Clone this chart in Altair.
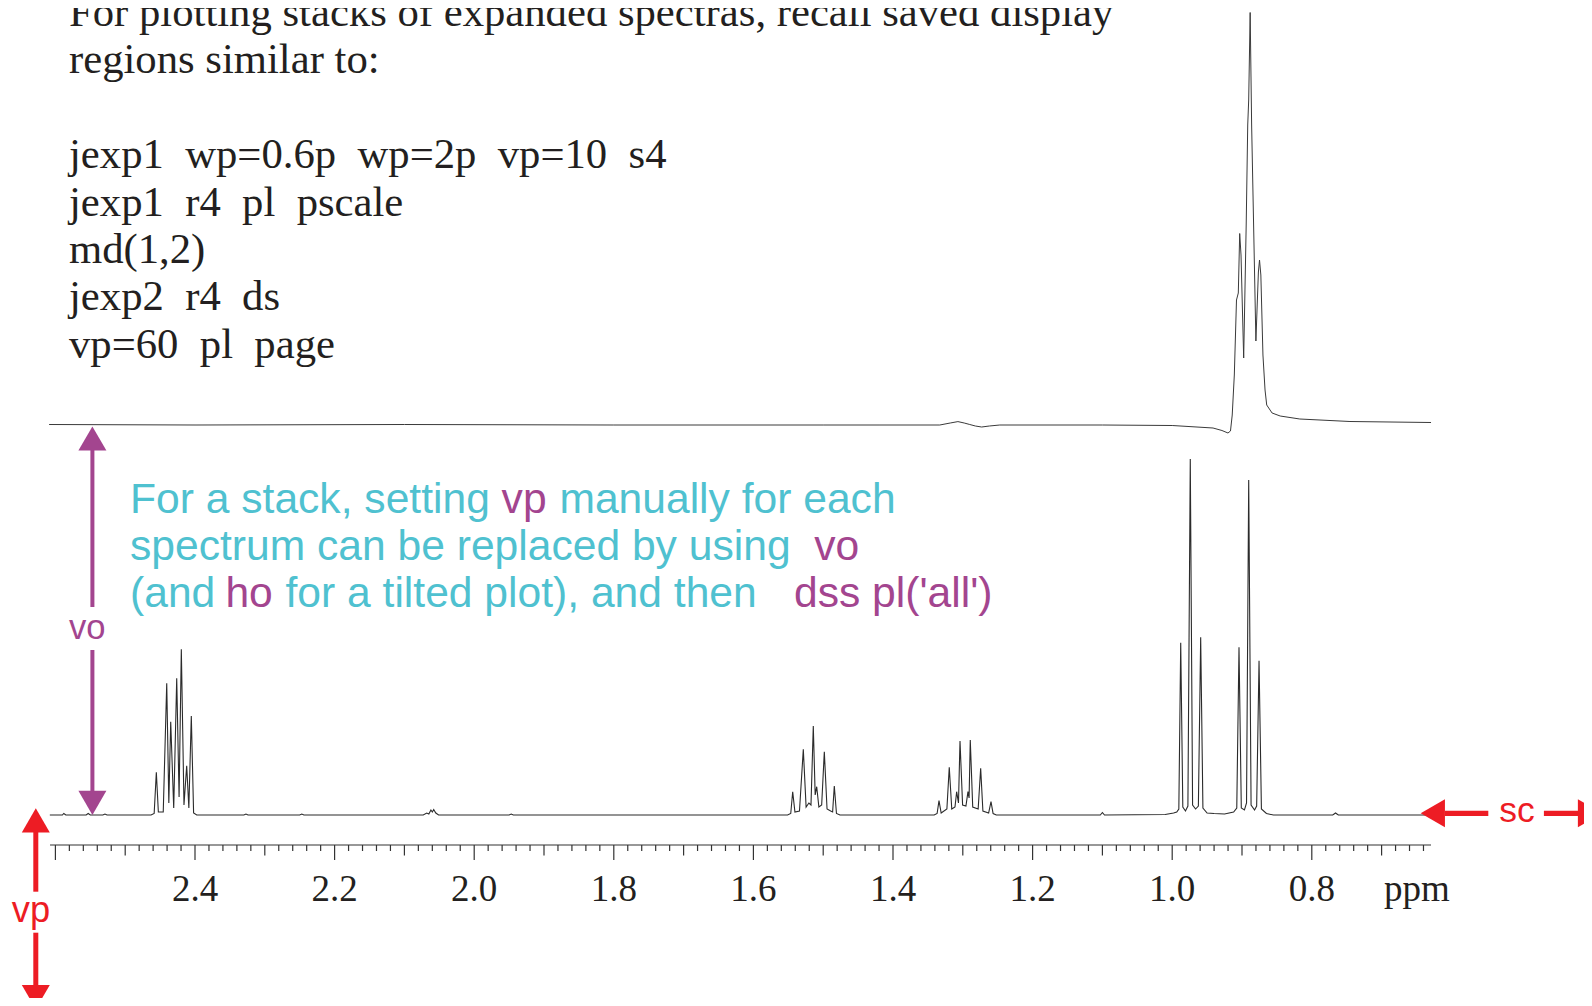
import altair as alt
import pandas as pd

# ---------------- data ----------------
# lower (high-resolution) spectrum: chemical shift (ppm) and intensity above its baseline
low_ppm = [2.608, 2.590, 2.588, 2.585, 2.556, 2.553, 2.550, 2.532, 2.529, 2.526,
           2.463, 2.4585, 2.4554, 2.4525, 2.4455, 2.4405, 2.4375, 2.4348, 2.4305, 2.4262,
           2.4228, 2.4196, 2.4158, 2.4119, 2.4088, 2.4053, 2.4020, 2.3975,
           2.330, 2.327, 2.324, 2.250, 2.247, 2.244,
           2.073, 2.068, 2.065, 2.062, 2.060, 2.058, 2.055, 2.051, 1.950, 1.947, 1.944,
           1.551, 1.5465, 1.5437, 1.5405, 1.534, 1.5285, 1.5245, 1.5205, 1.5175, 1.5142,
           1.5115, 1.5093, 1.5062, 1.5022, 1.4984, 1.4945, 1.4893, 1.4865, 1.4841, 1.4810, 1.476,
           1.341, 1.3368, 1.3341, 1.3310, 1.3228, 1.3194, 1.3158, 1.3112, 1.3088, 1.3062,
           1.3040, 1.3003, 1.2955, 1.2926, 1.2910, 1.2893, 1.2858, 1.2780, 1.2744, 1.2712,
           1.2630, 1.2596, 1.2566, 1.252,
           1.103, 1.100, 1.097, 1.010, 0.998, 0.9935, 0.9905, 0.9878, 0.9848, 0.981,
           0.9775, 0.9741, 0.9708, 0.9665, 0.9625, 0.9592, 0.9560, 0.950, 0.940, 0.925,
           0.912, 0.9075, 0.9043, 0.9010, 0.8965, 0.8935, 0.8904, 0.8870, 0.8820, 0.8790,
           0.8756, 0.8722, 0.865, 0.855, 0.770, 0.766, 0.762, 0.629]
low_int = [0, 0, 1.5, 0, 0, 1.5, 0, 0, 1, 0,
           0, 1.5, 42.7, 3, 3, 131.7, 12, 93.3, 7, 136.7,
           18, 165.7, 10, 49.3, 7, 99, 2, 0,
           0, 1, 0, 0, 1, 0,
           0, 2, 1, 5, 3, 5.5, 2, 0, 0, 1, 0,
           0, 1.5, 23.3, 3, 4, 65.7, 8, 12, 10, 89,
           20, 28.3, 8, 10, 63.3, 6, 4, 3, 29, 1.5, 0,
           0, 1.5, 14.3, 2, 6, 47.7, 6, 8, 23.3, 12,
           74, 10, 9, 23.3, 17, 75, 8, 6, 46.7, 4,
           2, 13.3, 1.5, 0,
           0, 2.5, 0, 0.5, 2, 3, 6, 172.3, 8, 4,
           9, 356, 10, 6, 9, 177.7, 7, 2, 1.5, 1,
           3, 7, 167.7, 7, 5, 12, 335, 10, 5, 9,
           154.3, 6, 1.5, 0, 0, 2, 0, 0]

# upper (broadened) spectrum: ppm and intensity relative to its own baseline
up_ppm = [2.609, 2.40, 2.10, 1.80, 1.50, 1.42, 1.333, 1.318, 1.307, 1.298, 1.290, 1.282,
          1.273, 1.262, 1.247, 1.10, 1.00, 0.9415, 0.9287, 0.9201, 0.9165, 0.9140, 0.9110,
          0.9079, 0.9053, 0.9033, 0.9014, 0.8976, 0.8940, 0.8918, 0.8904, 0.8883, 0.8862,
          0.8801, 0.8765, 0.8749, 0.8730, 0.8700, 0.8670, 0.8646, 0.8569, 0.8453, 0.8172,
          0.7453, 0.6292]
up_int = [0.5, 0, 0.5, 0, 0, 0, 0, 2, 3.4, 2, 0.5, -1,
          -2, -1, 0, 0, -0.5, -3, -5.5, -8, -6, 10, 50,
          125, 132, 191.5, 170, 67, 200, 300, 325, 412.5, 300,
          84, 153, 165, 150, 70, 35, 20, 12, 9, 6,
          3.5, 2.5]
VO = 390  # vertical offset (vo) of the upper trace

axis_start, axis_end = 2.6077, 0.6292
tick_ppm = [round(2.60 - 0.02 * i, 2) for i in range(99)]
label_ppm = [2.4, 2.2, 2.0, 1.8, 1.6, 1.4, 1.2, 1.0, 0.8]
label_txt = ["2.4", "2.2", "2.0", "1.8", "1.6", "1.4", "1.2", "1.0", "0.8"]

serif_lines = ["For plotting stacks of expanded spectras, recall saved display",
               "regions similar to:", "",
               "jexp1  wp=0.6p  wp=2p  vp=10  s4",
               "jexp1  r4  pl  pscale",
               "md(1,2)",
               "jexp2  r4  ds",
               "vp=60  pl  page"]

CYAN = "#4FC1D0"
PURPLE = "#A3458F"
RED = "#ED1C24"
INK = "#231F20"

seg_text = ["For a stack, setting", "vp", "manually for each",
            "spectrum can be replaced by using", "vo",
            "(and", "ho", "for a tilted plot), and then", "dss pl('all')"]
seg_x = [2.49312, 1.96074, 1.87794, 2.49312, 1.51275, 2.49312, 2.35645, 2.27034, 1.54183]
seg_y = [302.3, 302.3, 302.3, 255, 255, 208, 208, 208, 208]
seg_col = [CYAN, PURPLE, CYAN, CYAN, PURPLE, CYAN, PURPLE, CYAN, PURPLE]

# ---------------- scales ----------------
W, H = 1576, 990
xs = alt.Scale(domain=[0.41003, 2.66791], reverse=True, nice=False, zero=False)
ys = alt.Scale(domain=[-183, 807], nice=False, zero=False)


def X(f="x"):
    return alt.X(f"{f}:Q", scale=xs, axis=None)


def Y(f="y"):
    return alt.Y(f"{f}:Q", scale=ys, axis=None)


# ---------------- spectra ----------------
low_df = pd.DataFrame({"x": low_ppm, "y": low_int, "i": range(len(low_ppm))})
up_df = pd.DataFrame({"x": up_ppm, "y": [v + VO for v in up_int], "i": range(len(up_ppm))})

lower = alt.Chart(low_df).mark_line(color="#2b2b2b", strokeWidth=1.1).encode(
    x=X(), y=Y(), order="i:Q")
upper = alt.Chart(up_df).mark_line(color="#3a3a3a", strokeWidth=1).encode(
    x=X(), y=Y(), order="i:Q")

# ---------------- axis ----------------
AX_Y = -30
axis_df = pd.DataFrame({"x": [axis_start], "x2": [axis_end], "y": [AX_Y]})
axis_line = alt.Chart(axis_df).mark_rule(color="#333333", strokeWidth=1.2).encode(
    x=X(), x2="x2:Q", y=Y())


def tick_len(v):
    k = int(round(v * 100))
    if k % 20 == 0:
        return 15
    if k % 10 == 0:
        return 10.5
    return 6


tick_df = pd.DataFrame({"x": tick_ppm, "y": AX_Y,
                        "y2": [AX_Y - tick_len(v) for v in tick_ppm]})
ticks = alt.Chart(tick_df).mark_rule(color="#333333", strokeWidth=1.2).encode(
    x=X(), y=Y(), y2="y2:Q")

LAB_Y = -86
lab_df = pd.DataFrame({"x": label_ppm, "t": label_txt, "y": LAB_Y})
labels = alt.Chart(lab_df).mark_text(font="Liberation Serif", fontSize=37, color=INK,
                                     align="center", baseline="alphabetic").encode(
    x=X(), y=Y(), text="t:N")
ppm_df = pd.DataFrame({"x": [0.64957], "t": ["ppm"], "y": [LAB_Y]})
ppm_lab = alt.Chart(ppm_df).mark_text(font="Liberation Serif", fontSize=37, color=INK,
                                      align="center", baseline="alphabetic").encode(
    x=X(), y=Y(), text="t:N")

# ---------------- serif command text ----------------
rows = [(t.replace("  ", "\u00a0\u00a0"), 789 - 47.4 * i)
        for i, t in enumerate(serif_lines) if t]
serif_df = pd.DataFrame({"t": [r[0] for r in rows], "y": [r[1] for r in rows], "x": 2.58052})
serif = alt.Chart(serif_df).mark_text(font="Liberation Serif", fontSize=42.7, color=INK,
                                      align="left", baseline="alphabetic").encode(
    x=X(), y=Y(), text="t:N")

# ---------------- coloured explanation ----------------
seg_df = pd.DataFrame({"t": seg_text, "x": seg_x, "y": seg_y, "c": seg_col})
segs = alt.Chart(seg_df).mark_text(font="Liberation Sans", fontSize=42.6,
                                   align="left", baseline="alphabetic").encode(
    x=X(), y=Y(), text="t:N", color=alt.Color("c:N", scale=None))

# ---------------- arrows ----------------
vshaft_df = pd.DataFrame({
    "x": [2.62808, 2.62808, 2.54699, 2.54699],
    "y": [-17, -117.7, 365, 165],
    "y2": [-76.7, -172, 208, 23],
    "c": [RED, RED, PURPLE, PURPLE],
    "w": [5, 5, 4, 4]})
vshafts = alt.Chart(vshaft_df).mark_rule().encode(
    x=X(), y=Y(), y2="y2:Q", color=alt.Color("c:N", scale=None),
    strokeWidth=alt.StrokeWidth("w:Q", scale=None))

hshaft_df = pd.DataFrame({"x": [0.60917, 0.46748], "x2": [0.54713, 0.41819], "y": [1.7, 1.7]})
hshafts = alt.Chart(hshaft_df).mark_rule(color=RED, strokeWidth=5.3).encode(
    x=X(), x2="x2:Q", y=Y())

head_df = pd.DataFrame({
    "x": [2.62808, 2.62808, 2.54699, 2.54699, 0.62665, 0.40143],
    "y": [-5.4, -182, 376.5, 12.1, 1.7, 1.7],
    "s": ["triangle-up", "triangle-down", "triangle-up", "triangle-down",
          "triangle-left", "triangle-right"],
    "c": [RED, RED, PURPLE, PURPLE, RED, RED]})
heads = alt.Chart(head_df).mark_point(filled=True, opacity=1, size=784, strokeWidth=0).encode(
    x=X(), y=Y(), shape=alt.Shape("s:N", scale=None), color=alt.Color("c:N", scale=None))

alab_df = pd.DataFrame({"x": [2.63496, 2.55430, 0.50602], "y": [-106.5, 176.5, -7.3],
                        "t": ["vp", "vo", "sc"], "c": [RED, PURPLE, RED],
                        "fs": [36.3, 34.6, 35.5]})
alabs = alt.Chart(alab_df).mark_text(font="Liberation Sans", align="center",
                                     baseline="alphabetic").encode(
    x=X(), y=Y(), text="t:N", color=alt.Color("c:N", scale=None),
    size=alt.Size("fs:Q", scale=None))

chart = alt.layer(
    upper, lower, axis_line, ticks, labels, ppm_lab, serif, segs,
    vshafts, hshafts, heads, alabs
).properties(
    width=W, height=H, padding=0,
    autosize=alt.AutoSizeParams(type="none"),
    background="white"
).configure_view(strokeWidth=0)

chart.save("out.html", embed_options={"renderer": "svg", "actions": False})
